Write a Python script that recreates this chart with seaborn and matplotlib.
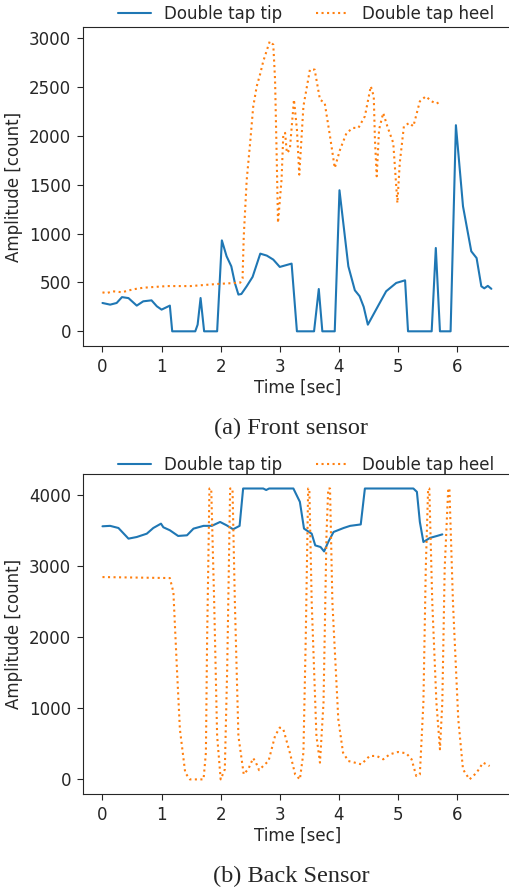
import pandas as pd
import matplotlib
matplotlib.use("Agg")
import matplotlib.pyplot as plt
import seaborn as sns

sns.set_style("ticks")
plt.rcParams['font.family'] = ['DejaVu Sans']

TIP_LABEL = "Double tap tip"
HEEL_LABEL = "Double tap heel"
BLUE = "#1f77b4"
ORANGE = "#ff7f0e"

# (a) front sensor
front_tip_t = [0.00, 0.13, 0.24, 0.33, 0.44, 0.58, 0.69, 0.83, 0.92, 1.00, 1.14, 1.18,
               1.57, 1.61, 1.66, 1.72, 1.94, 2.02, 2.10, 2.18, 2.24, 2.30, 2.35, 2.44,
               2.54, 2.67, 2.78, 2.89, 3.00, 3.20, 3.29, 3.58, 3.66, 3.72, 3.93, 4.01,
               4.16, 4.27, 4.35, 4.42, 4.49, 4.66, 4.80, 4.97, 5.12, 5.17, 5.57, 5.64,
               5.71, 5.89, 5.98, 6.10, 6.24, 6.33, 6.41, 6.46, 6.52, 6.58]
front_tip = [290, 273, 290, 350, 340, 263, 307, 317, 256, 222, 263, 0,
             0, 68, 341, 0, 0, 931, 768, 665, 495, 376, 382, 461,
             557, 795, 775, 734, 659, 693, 0, 0, 433, 0, 0, 1444,
             666, 420, 360, 250, 68, 256, 410, 495, 522, 0, 0, 853,
             0, 0, 2110, 1280, 819, 750, 461, 440, 465, 435]

front_heel_t = [0.00, 0.07, 0.17, 0.33, 0.52, 0.69, 1.09, 1.49, 1.93, 2.33, 2.37, 2.39,
                2.44, 2.50, 2.55, 2.61, 2.67, 2.72, 2.83, 2.89, 2.92, 2.95, 2.97, 3.03,
                3.06, 3.09, 3.12, 3.17, 3.24, 3.29, 3.33, 3.40, 3.51, 3.59, 3.68, 3.76,
                3.85, 3.93, 4.02, 4.13, 4.24, 4.33, 4.44, 4.54, 4.59, 4.61, 4.64, 4.68,
                4.75, 4.82, 4.92, 4.99, 5.03, 5.10, 5.19, 5.26, 5.37, 5.47, 5.57, 5.65,
                5.72]
front_heel = [399, 390, 410, 400, 430, 446, 463, 463, 484, 498, 540, 966,
              1546, 1940, 2297, 2508, 2638, 2763, 2968, 2934, 2576, 1723, 1110, 1553,
              2020, 2031, 1826, 1860, 2372, 2065, 1604, 2303, 2679, 2679, 2372, 2338,
              1996, 1672, 1860, 2031, 2082, 2082, 2201, 2508, 2405, 1962, 1587, 2065,
              2235, 2098, 1928, 1314, 1723, 2098, 2133, 2098, 2354, 2405, 2354, 2330,
              2354]

# (b) back sensor
back_tip_t = [0.00, 0.13, 0.27, 0.44, 0.58, 0.75, 0.86, 0.99, 1.03, 1.14, 1.28, 1.43,
              1.54, 1.71, 1.85, 1.99, 2.10, 2.21, 2.32, 2.38, 2.72, 2.77, 2.82, 3.23,
              3.34, 3.41, 3.54, 3.60, 3.69, 3.75, 3.82, 3.91, 4.08, 4.19, 4.37, 4.44,
              5.26, 5.32, 5.37, 5.43, 5.54, 5.66, 5.75]
back_tip = [3564, 3570, 3540, 3390, 3413, 3460, 3540, 3601, 3550, 3508, 3428, 3437,
            3531, 3570, 3570, 3625, 3578, 3522, 3570, 4096, 4096, 4075, 4096, 4096,
            3908, 3531, 3460, 3295, 3272, 3210, 3343, 3484, 3540, 3570, 3590, 4096,
            4096, 4049, 3625, 3343, 3400, 3428, 3450]

back_heel_t = [0.00, 1.14, 1.20, 1.26, 1.31, 1.40, 1.48, 1.71, 1.75, 1.77, 1.81, 1.84,
               1.89, 1.94, 2.00, 2.07, 2.11, 2.16, 2.20, 2.24, 2.30, 2.39, 2.47, 2.55,
               2.60, 2.65, 2.72, 2.81, 2.92, 3.00, 3.06, 3.17, 3.26, 3.34, 3.40, 3.44,
               3.48, 3.50, 3.54, 3.62, 3.68, 3.74, 3.79, 3.82, 3.85, 3.89, 3.99, 4.07,
               4.16, 4.27, 4.38, 4.52, 4.64, 4.75, 4.86, 5.00, 5.14, 5.23, 5.31, 5.37,
               5.43, 5.47, 5.51, 5.53, 5.58, 5.65, 5.71, 5.75, 5.79, 5.85, 5.87, 5.93,
               6.02, 6.10, 6.21, 6.33, 6.44, 6.55]
back_heel = [2849, 2835, 2637, 1554, 706, 94, 0, 0, 377, 1940, 4096, 4096,
             2496, 612, 0, 141, 1554, 4096, 4096, 2496, 612, 71, 150, 300,
             230, 130, 190, 260, 612, 730, 706, 377, 71, 0, 377, 2024,
             4096, 4096, 2496, 612, 236, 1083, 3437, 4096, 4096, 2496, 847, 377,
             259, 236, 212, 330, 330, 283, 353, 386, 368, 283, 47, 71,
             1083, 2967, 4096, 4096, 2496, 1083, 424, 1083, 2967, 4096, 4096, 2496,
             847, 141, 0, 94, 236, 188]


def draw_panel(ax, tip_t, tip, heel_t, heel, ylim):
    sns.lineplot(x=tip_t, y=tip, ax=ax, color=BLUE, linewidth=1.5,
                 sort=False, estimator=None, label=TIP_LABEL)
    sns.lineplot(x=heel_t, y=heel, ax=ax, color=ORANGE, linewidth=1.5,
                 linestyle=':', sort=False, estimator=None, label=HEEL_LABEL)
    ax.set_xlim(-0.33, 6.93)
    ax.set_ylim(*ylim)
    ax.set_xticks(range(7))
    ax.set_xlabel("Time [sec]", fontsize=12, labelpad=2)
    ax.set_ylabel("Amplitude [count]", fontsize=12, labelpad=4)
    ax.tick_params(labelsize=12, length=4.5, pad=4)
    ax.spines['right'].set_visible(False)
    ax.get_legend().remove()


fig = plt.figure(figsize=(5.09, 8.88), dpi=100)
ax1 = fig.add_axes([0.163, 0.6104, 0.843, 0.3592])
ax2 = fig.add_axes([0.163, 0.1059, 0.843, 0.3603])

draw_panel(ax1, front_tip_t, front_tip, front_heel_t, front_heel, (-150, 3115))
draw_panel(ax2, back_tip_t, back_tip, back_heel_t, back_heel, (-205, 4300))

for ax, ycen in [(ax1, 14), (ax2, 465)]:
    handles, labels = ax.get_legend_handles_labels()
    fig.legend(handles, labels, loc='center', ncol=2, frameon=False, fontsize=12,
               bbox_to_anchor=(306 / 509, 1 - ycen / 888),
               bbox_transform=fig.transFigure, handlelength=2.0, columnspacing=2.0)

fig.text(291 / 509, 1 - 428 / 888, "(a) Front sensor", ha='center', va='center',
         fontsize=17.5, family=['Liberation Serif', 'DejaVu Serif'])
fig.text(291 / 509, 1 - 876.5 / 888, "(b) Back Sensor", ha='center', va='center',
         fontsize=17.5, family=['Liberation Serif', 'DejaVu Serif'])

fig.savefig("out.png", dpi=100)
